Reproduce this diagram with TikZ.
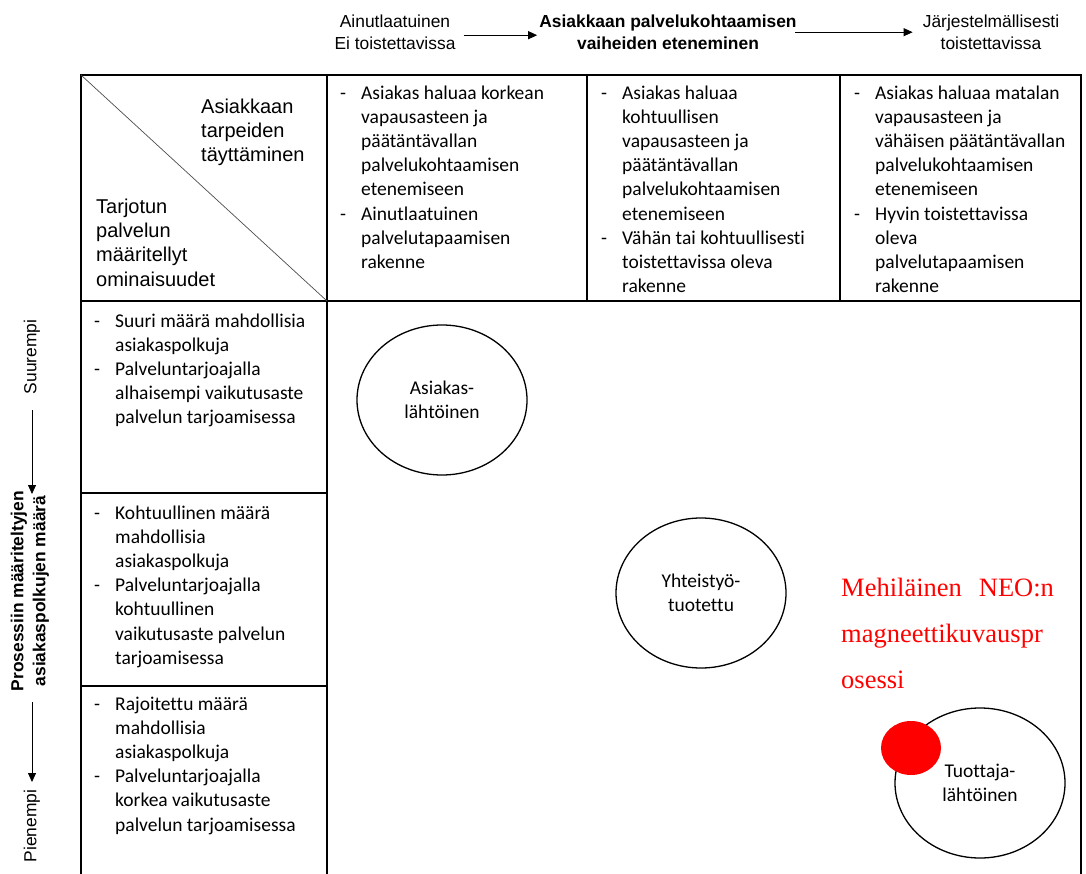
\documentclass[tikz,border=0pt]{standalone}
\usepackage{fontspec}
\setmainfont{Carlito}[Ligatures=NoCommon]
\newfontfamily\arialfont{Liberation Sans}
\newfontfamily\timesfont{Liberation Serif}
\usetikzlibrary{arrows.meta,shapes.geometric}

\begin{document}
\begin{tikzpicture}[x=1pt,y=-1pt,
  grid/.style={line width=1.9pt},
  celltext/.style={anchor=north west, inner sep=0pt, font=\fontsize{19.5}{24.2}\selectfont},
  diagtext/.style={anchor=north west, inner sep=0pt, font=\arialfont\fontsize{20}{24.3}\selectfont},
  labeltext/.style={inner sep=0pt, font=\arialfont\fontsize{17.4}{22}\selectfont},
  boldlabel/.style={inner sep=0pt, font=\arialfont\bfseries\fontsize{17.4}{22}\selectfont},
  phase/.style={ellipse, draw, line width=1.3pt, minimum width=170pt, minimum height=150pt,
    inner sep=0pt, align=center, font=\fontsize{19.5}{23.5}\selectfont},
  axisarrow/.style={-{Triangle[length=9pt,width=8pt]}, line width=0.8pt},
]
\useasboundingbox (0,0) rectangle (1086,874);

% table frame
\draw[grid] (81,874) -- (81,75) -- (1081,75) -- (1081,874);
\draw[grid] (81,301) -- (1081,301);
\draw[grid] (327,75) -- (327,874);
\draw[grid] (587,75) -- (587,301);
\draw[grid] (840,75) -- (840,301);
\draw[grid] (81,493) -- (327,493);
\draw[grid] (81,686) -- (327,686);
\draw[line width=0.7pt, black!70] (81,75) -- (327,301);

% corner cell
\node[diagtext] (needs) at (201,96) {\begin{tabular}{@{}l@{}}Asiakkaan\\tarpeiden\\täyttäminen\end{tabular}};
\node[diagtext] (features) at (96,196) {\begin{tabular}{@{}l@{}}Tarjotun\\palvelun\\määritellyt\\ominaisuudet\end{tabular}};

% header cells
\node[celltext] (colA) at (340,82) {\begin{tabular}{@{}p{21pt}@{}l@{}}
-&Asiakas haluaa korkean\\
&vapausasteen ja\\
&päätäntävallan\\
&palvelukohtaamisen\\
&etenemiseen\\
-&Ainutlaatuinen\\
&palvelutapaamisen\\
&rakenne
\end{tabular}};
\node[celltext] (colB) at (601,82) {\begin{tabular}{@{}p{21pt}@{}l@{}}
-&Asiakas haluaa\\
&kohtuullisen\\
&vapausasteen ja\\
&päätäntävallan\\
&palvelukohtaamisen\\
&etenemiseen\\
-&Vähän tai kohtuullisesti\\
&toistettavissa oleva\\
&rakenne
\end{tabular}};
\node[celltext] (colC) at (854,82) {\begin{tabular}{@{}p{21pt}@{}l@{}}
-&Asiakas haluaa matalan\\
&vapausasteen ja\\
&vähäisen päätäntävallan\\
&palvelukohtaamisen\\
&etenemiseen\\
-&Hyvin toistettavissa\\
&oleva\\
&palvelutapaamisen\\
&rakenne
\end{tabular}};

% row cells
\node[celltext] (rowA) at (94,310) {\begin{tabular}{@{}p{21pt}@{}l@{}}
-&Suuri määrä mahdollisia\\
&asiakaspolkuja\\
-&Palveluntarjoajalla\\
&alhaisempi vaikutusaste\\
&palvelun tarjoamisessa
\end{tabular}};
\node[celltext] (rowB) at (94,502) {\begin{tabular}{@{}p{21pt}@{}l@{}}
-&Kohtuullinen määrä\\
&mahdollisia\\
&asiakaspolkuja\\
-&Palveluntarjoajalla\\
&kohtuullinen\\
&vaikutusaste palvelun\\
&tarjoamisessa
\end{tabular}};
\node[celltext] (rowC) at (94,693) {\begin{tabular}{@{}p{21pt}@{}l@{}}
-&Rajoitettu määrä\\
&mahdollisia\\
&asiakaspolkuja\\
-&Palveluntarjoajalla\\
&korkea vaikutusaste\\
&palvelun tarjoamisessa
\end{tabular}};

% horizontal axis
\node[labeltext, anchor=north] (unique) at (395,12) {\begin{tabular}{@{}c@{}}Ainutlaatuinen\\Ei toistettavissa\end{tabular}};
\node[boldlabel, anchor=north] (progress) at (668,12) {\begin{tabular}{@{}c@{}}Asiakkaan palvelukohtaamisen\\vaiheiden eteneminen\end{tabular}};
\node[labeltext, anchor=north] (systematic) at (991,12) {\begin{tabular}{@{}c@{}}Järjestelmällisesti\\toistettavissa\end{tabular}};
\draw[axisarrow] ([xshift=8pt,yshift=-1pt]unique.east) -- ([xshift=-2pt,yshift=-1pt]progress.west);
\draw[axisarrow] ([xshift=-2pt,yshift=2pt]progress.east) -- ([xshift=-10pt,yshift=2pt]systematic.west);

% vertical axis
\node[labeltext, rotate=90] (more) at (32,357) {Suurempi};
\node[boldlabel, rotate=90] (axis) at (30,591) {\begin{tabular}{@{}c@{}}Prosessiin määriteltyjen\\asiakaspolkujen määrä\end{tabular}};
\node[labeltext, rotate=90] (less) at (32,826) {Pienempi};
\coordinate (downA) at (32,410);
\coordinate (downB) at (32,494);
\coordinate (downC) at (32,702);
\coordinate (downD) at (32,782);
\draw[axisarrow] (downA) -- (downB);
\draw[axisarrow] (downC) -- (downD);

% service types
\node[phase] (customer) at (442,400) {Asiakas-\\lähtöinen};
\node[phase] (cocreated) at (701,593) {Yhteistyö-\\tuotettu};
\node[phase] (producer) at (980,783) {Tuottaja-\\lähtöinen};
\node[ellipse, fill=red, minimum width=60pt, minimum height=54pt, inner sep=0pt] (case) at (911,748) {};
\node[anchor=north west, inner sep=0pt, text=red, font=\timesfont\fontsize{26.5}{46}\selectfont] (note) at (841,564)
  {\begin{tabular}{@{}l@{}}Mehiläinen\hspace{17pt}NEO:n\\magneettikuvauspr\\osessi\end{tabular}};
\end{tikzpicture}
\end{document}
